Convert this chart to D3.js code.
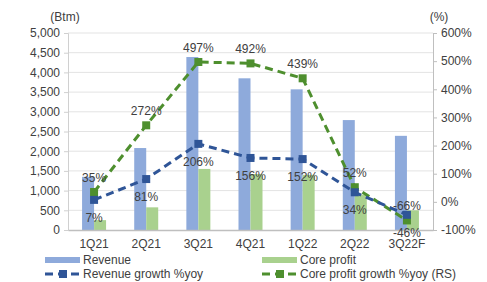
<!DOCTYPE html>
<html>
<head>
<meta charset="UTF-8">
<script src="https://d3js.org/d3.v7.min.js"></script>
<style>
  body { margin: 0; background: #fff; font-family: "Liberation Sans", Arial, sans-serif; }
  .tick text { font-size: 12px; fill: #404040; }
  .lbl { font-size: 12px; fill: #404040; }
</style>
</head>
<body>
<div id="chart"></div>
<script>
// data
let quarters = ["1Q21", "2Q21", "3Q21", "4Q21", "1Q22", "2Q22", "3Q22F"];
let revenue = [1350, 2080, 4390, 3850, 3570, 2790, 2390];
let coreProfit = [250, 575, 1550, 1420, 1400, 900, 500];
let revenueGrowth = [7, 81, 206, 156, 152, 34, -46];
let coreGrowth = [35, 272, 497, 492, 439, 52, -66];
let leftTicks = [0, 500, 1000, 1500, 2000, 2500, 3000, 3500, 4000, 4500, 5000];
let rightTicks = [-100, 0, 100, 200, 300, 400, 500, 600];

let W = 487, H = 282;
let margin = { top: 33, right: 54, bottom: 52, left: 68 };
let width = W - margin.left - margin.right,
    height = H - margin.top - margin.bottom;

let colRev = "#8eaadb", colCore = "#a9d18e";
let colRevLine = "#2f5597", colCoreLine = "#4e8f2e";

let svg = d3.select("#chart").append("svg")
    .attr("width", W).attr("height", H);
let g = svg.append("g").attr("transform", "translate(" + margin.left + "," + margin.top + ")");

let x = d3.scaleBand().domain(quarters).range([0, width]);
let y = d3.scaleLinear().domain([0, 5000]).range([height, 0]);
let y2 = d3.scaleLinear().domain([-100, 600]).range([height, 0]);
let barW = 12;

// gridlines
g.selectAll(".grid").data(leftTicks.slice(1)).enter().append("line")
    .attr("x1", 0).attr("x2", width)
    .attr("y1", d => y(d)).attr("y2", d => y(d))
    .attr("stroke", "#e3e3e3").attr("stroke-width", 1);

// left axis
let ax = g.append("g")
    .call(d3.axisLeft(y).tickValues(leftTicks).tickFormat(d3.format(",")).tickSize(4).tickPadding(4));
ax.select(".domain").attr("stroke", "#d0d0d0");
ax.selectAll(".tick line").attr("stroke", "#d0d0d0");

// right axis
let ax2 = g.append("g").attr("transform", "translate(" + width + ",0)")
    .call(d3.axisRight(y2).tickValues(rightTicks).tickFormat(d => d + "%").tickSize(4).tickPadding(4));
ax2.select(".domain").attr("stroke", "#bfbfbf");
ax2.selectAll(".tick line").attr("stroke", "#bfbfbf");

// bars
g.selectAll(".rev").data(revenue).enter().append("rect")
    .attr("x", (d, i) => x(quarters[i]) + x.bandwidth() / 2 - barW)
    .attr("y", d => y(d)).attr("width", barW).attr("height", d => height - y(d))
    .attr("fill", colRev);
g.selectAll(".core").data(coreProfit).enter().append("rect")
    .attr("x", (d, i) => x(quarters[i]) + x.bandwidth() / 2)
    .attr("y", d => y(d)).attr("width", barW).attr("height", d => height - y(d))
    .attr("fill", colCore);

// bottom axis
let axb = g.append("g").attr("transform", "translate(0," + height + ")")
    .call(d3.axisBottom(x).tickSize(0).tickPadding(9));
axb.select(".domain").attr("stroke", "#bfbfbf").attr("stroke-width", 1.5);

let cx = i => x(quarters[i]) + x.bandwidth() / 2;

function drawLine(vals, color) {
    let line = d3.line().x((d, i) => cx(i)).y(d => y2(d));
    g.append("path").datum(vals).attr("d", line)
        .attr("fill", "none").attr("stroke", color)
        .attr("stroke-width", 3).attr("stroke-dasharray", "8,5");
    g.selectAll(null).data(vals).enter().append("rect")
        .attr("x", (d, i) => cx(i) - 4).attr("y", d => y2(d) - 4)
        .attr("width", 8).attr("height", 8).attr("fill", color);
}
drawLine(coreGrowth, colCoreLine);
drawLine(revenueGrowth, colRevLine);

// data labels
g.selectAll(null).data(coreGrowth).enter().append("text").attr("class", "lbl")
    .attr("x", (d, i) => cx(i)).attr("y", d => y2(d) - 10)
    .attr("text-anchor", "middle").text(d => d + "%");
g.selectAll(null).data(revenueGrowth).enter().append("text").attr("class", "lbl")
    .attr("x", (d, i) => cx(i)).attr("y", d => y2(d) + 22)
    .attr("text-anchor", "middle").text(d => d + "%");

// axis titles
svg.append("text").attr("class", "lbl").attr("x", 65).attr("y", 21)
    .attr("text-anchor", "middle").text("(Btm)");
svg.append("text").attr("class", "lbl").attr("x", 439).attr("y", 21)
    .attr("text-anchor", "middle").text("(%)");

// legend
let leg = svg.append("g");
let legItems = [
    { name: "Revenue", type: "bar", color: colRev, x: 45, y: 260 },
    { name: "Core profit", type: "bar", color: colCore, x: 262, y: 260 },
    { name: "Revenue growth %yoy", type: "line", color: colRevLine, x: 45, y: 274 },
    { name: "Core profit growth %yoy (RS)", type: "line", color: colCoreLine, x: 262, y: 274 }
];
legItems.forEach(d => {
    if (d.type === "bar") {
        leg.append("rect").attr("x", d.x).attr("y", d.y - 3).attr("width", 35).attr("height", 6).attr("fill", d.color);
    } else {
        leg.append("line").attr("x1", d.x).attr("x2", d.x + 35).attr("y1", d.y).attr("y2", d.y)
            .attr("stroke", d.color).attr("stroke-width", 3).attr("stroke-dasharray", "8,5");
        leg.append("rect").attr("x", d.x + 14).attr("y", d.y - 4).attr("width", 8).attr("height", 8).attr("fill", d.color);
    }
    leg.append("text").attr("class", "lbl").attr("x", d.x + 38).attr("y", d.y + 4).text(d.name);
});
</script>
</body>
</html>
